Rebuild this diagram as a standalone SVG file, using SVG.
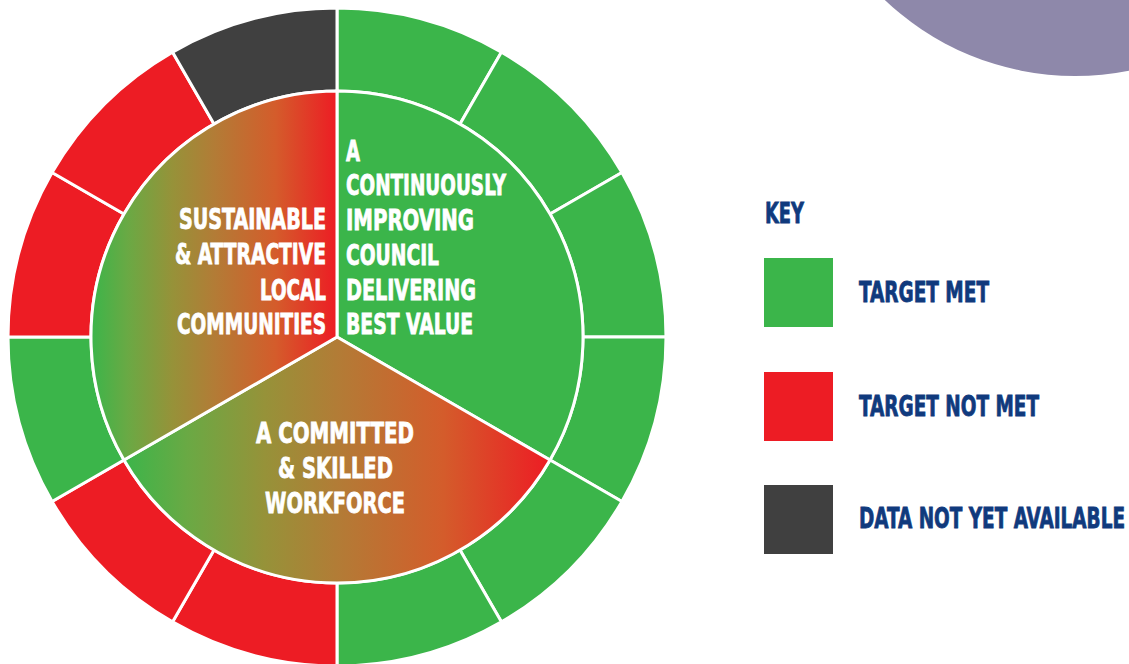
<svg xmlns="http://www.w3.org/2000/svg" width="1129" height="664" viewBox="0 0 1129 664">
  <style>
    .met { fill: #3bb54a; }
    .notmet { fill: #ed1c24; }
    .nodata { fill: #404040; }
    .seg { stroke: #ffffff; stroke-width: 3; stroke-linejoin: miter; }
    .lbl { font-family: "Liberation Sans Narrow", "DejaVu Sans Condensed", "Liberation Sans", sans-serif; font-weight: bold; font-stretch: condensed; font-size: 29px; fill: #ffffff; stroke: #ffffff; stroke-width: 0.8; }
    .key { font-family: "Liberation Sans Narrow", "DejaVu Sans Condensed", "Liberation Sans", sans-serif; font-weight: bold; font-stretch: condensed; font-size: 29px; fill: #103a7d; stroke: #103a7d; stroke-width: 0.8; }
  </style>
  <defs>
    <linearGradient id="gradLeft" gradientUnits="userSpaceOnUse" x1="91" y1="0" x2="337" y2="0">
      <stop offset="0" stop-color="#3bb54a"/>
      <stop offset="0.15" stop-color="#6aa944"/>
      <stop offset="0.33" stop-color="#969239"/>
      <stop offset="0.5" stop-color="#b27c36"/>
      <stop offset="0.75" stop-color="#d45c2b"/>
      <stop offset="1" stop-color="#ed1c24"/>
    </linearGradient>
    <linearGradient id="gradBottom" gradientUnits="userSpaceOnUse" x1="124" y1="0" x2="550" y2="0">
      <stop offset="0" stop-color="#3bb54a"/>
      <stop offset="0.15" stop-color="#6aa944"/>
      <stop offset="0.33" stop-color="#969239"/>
      <stop offset="0.5" stop-color="#b27c36"/>
      <stop offset="0.75" stop-color="#d45c2b"/>
      <stop offset="1" stop-color="#ed1c24"/>
    </linearGradient>
  </defs>

  <rect width="1129" height="664" fill="#ffffff"/>

  <g id="corner-circle">
    <circle cx="1075" cy="-200" r="276" fill="#8e88aa"/>
  </g>

  <g id="outer-ring">
    <path id="ring-01" class="seg met" d="M337 8 A329 329 0 0 1 501.5 52.08 L460 123.96 A246 246 0 0 0 337 91 Z"/>
    <path id="ring-02" class="seg met" d="M501.5 52.08 A329 329 0 0 1 621.92 172.5 L550.04 214 A246 246 0 0 0 460 123.96 Z"/>
    <path id="ring-03" class="seg met" d="M621.92 172.5 A329 329 0 0 1 666 337 L583 337 A246 246 0 0 0 550.04 214 Z"/>
    <path id="ring-04" class="seg met" d="M666 337 A329 329 0 0 1 621.92 501.5 L550.04 460 A246 246 0 0 0 583 337 Z"/>
    <path id="ring-05" class="seg met" d="M621.92 501.5 A329 329 0 0 1 501.5 621.92 L460 550.04 A246 246 0 0 0 550.04 460 Z"/>
    <path id="ring-06" class="seg met" d="M501.5 621.92 A329 329 0 0 1 337 666 L337 583 A246 246 0 0 0 460 550.04 Z"/>
    <path id="ring-07" class="seg notmet" d="M337 666 A329 329 0 0 1 172.5 621.92 L214 550.04 A246 246 0 0 0 337 583 Z"/>
    <path id="ring-08" class="seg notmet" d="M172.5 621.92 A329 329 0 0 1 52.08 501.5 L123.96 460 A246 246 0 0 0 214 550.04 Z"/>
    <path id="ring-09" class="seg met" d="M52.08 501.5 A329 329 0 0 1 8 337 L91 337 A246 246 0 0 0 123.96 460 Z"/>
    <path id="ring-10" class="seg notmet" d="M8 337 A329 329 0 0 1 52.08 172.5 L123.96 214 A246 246 0 0 0 91 337 Z"/>
    <path id="ring-11" class="seg notmet" d="M52.08 172.5 A329 329 0 0 1 172.5 52.08 L214 123.96 A246 246 0 0 0 123.96 214 Z"/>
    <path id="ring-12" class="seg nodata" d="M172.5 52.08 A329 329 0 0 1 337 8 L337 91 A246 246 0 0 0 214 123.96 Z"/>
  </g>

  <g id="sector-council">
    <path class="seg met" d="M337 337 L337 91 A246 246 0 0 1 550.04 460 Z"/>
    <text class="lbl" x="346" y="161" textLength="14" lengthAdjust="spacingAndGlyphs">A</text>
    <text class="lbl" x="346" y="195" textLength="160" lengthAdjust="spacingAndGlyphs">CONTINUOUSLY</text>
    <text class="lbl" x="346" y="230" textLength="128" lengthAdjust="spacingAndGlyphs">IMPROVING</text>
    <text class="lbl" x="346" y="265" textLength="93" lengthAdjust="spacingAndGlyphs">COUNCIL</text>
    <text class="lbl" x="346" y="300" textLength="130" lengthAdjust="spacingAndGlyphs">DELIVERING</text>
    <text class="lbl" x="346" y="334" textLength="127" lengthAdjust="spacingAndGlyphs">BEST VALUE</text>
  </g>

  <g id="sector-workforce">
    <path class="seg" fill="url(#gradBottom)" d="M337 337 L550.04 460 A246 246 0 0 1 123.96 460 Z"/>
    <text class="lbl" x="256" y="443" textLength="158" lengthAdjust="spacingAndGlyphs">A COMMITTED</text>
    <text class="lbl" x="278" y="478" textLength="115" lengthAdjust="spacingAndGlyphs">&amp; SKILLED</text>
    <text class="lbl" x="265" y="513" textLength="140" lengthAdjust="spacingAndGlyphs">WORKFORCE</text>
  </g>

  <g id="sector-communities">
    <path class="seg" fill="url(#gradLeft)" d="M337 337 L123.96 460 A246 246 0 0 1 337 91 Z"/>
    <text class="lbl" x="179" y="229" textLength="147" lengthAdjust="spacingAndGlyphs">SUSTAINABLE</text>
    <text class="lbl" x="175" y="264" textLength="151" lengthAdjust="spacingAndGlyphs">&amp; ATTRACTIVE</text>
    <text class="lbl" x="260" y="300" textLength="66" lengthAdjust="spacingAndGlyphs">LOCAL</text>
    <text class="lbl" x="177" y="334" textLength="149" lengthAdjust="spacingAndGlyphs">COMMUNITIES</text>
  </g>

  <g id="connectors"></g>

  <g id="key">
    <text class="key" x="765" y="223" font-size="28" textLength="39" lengthAdjust="spacingAndGlyphs">KEY</text>
    <g id="key-met">
      <rect class="met" x="764" y="258" width="69" height="69"/>
      <text class="key" x="859" y="302" textLength="130" lengthAdjust="spacingAndGlyphs">TARGET MET</text>
    </g>
    <g id="key-notmet">
      <rect class="notmet" x="764" y="372" width="69" height="69"/>
      <text class="key" x="859" y="416" textLength="180" lengthAdjust="spacingAndGlyphs">TARGET NOT MET</text>
    </g>
    <g id="key-nodata">
      <rect class="nodata" x="764" y="485" width="69" height="69"/>
      <text class="key" x="859" y="528" textLength="266" lengthAdjust="spacingAndGlyphs">DATA NOT YET AVAILABLE</text>
    </g>
  </g>
</svg>
